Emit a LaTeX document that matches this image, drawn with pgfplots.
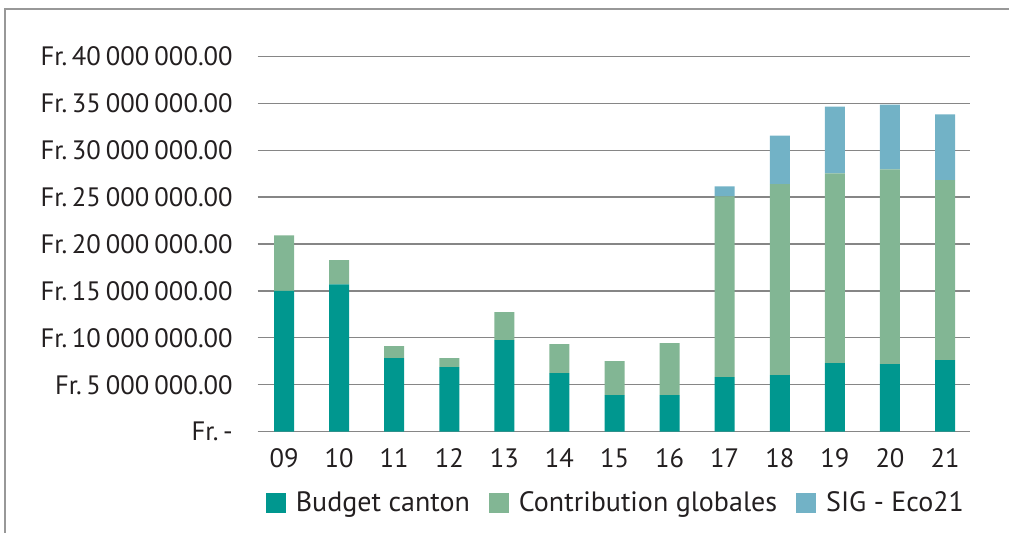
\documentclass[border=0pt]{standalone}
\usepackage{pgfplots}
\pgfplotsset{compat=1.18}
\usepackage{fontspec}
\setmainfont{PT Sans}
\definecolor{cBud}{RGB}{0,151,143}
\definecolor{cCon}{RGB}{130,182,148}
\definecolor{cSig}{RGB}{114,178,198}
\definecolor{cTxt}{RGB}{35,31,32}
\definecolor{cGrid}{RGB}{134,134,134}
\newcommand{\gs}{\hspace{0.19em}}
\newcommand{\fs}{\hspace{0.17em}}
\begin{document}
\begin{tikzpicture}
\useasboundingbox (0,0) rectangle (504.5pt,-266.5pt);
\draw[cGrid!85!white, line width=0.85pt] (2.5pt,-266.5pt) -- (2.5pt,-4.5pt) -- (504.5pt,-4.5pt);
\begin{axis}[
  at={(128.85pt,-215.85pt)}, anchor=south west,
  scale only axis, width=356.2pt, height=187.7pt,
  ybar stacked, bar width=10pt,
  xmin=-0.478, xmax=12.454, ymin=0, ymax=40,
  xtick={0,...,12},
  xticklabels={09,10,11,12,13,14,15,16,17,18,19,20,21},
  ytick={0,5,...,40},
  yticklabels={Fr.\fs-,Fr.\fs5\gs000\gs000.00,Fr.\fs10\gs000\gs000.00,Fr.\fs15\gs000\gs000.00,Fr.\fs20\gs000\gs000.00,Fr.\fs25\gs000\gs000.00,Fr.\fs30\gs000\gs000.00,Fr.\fs35\gs000\gs000.00,Fr.\fs40\gs000\gs000.00},
  axis line style={draw=none},
  major tick length=0pt,
  ymajorgrids, grid style={cGrid, line width=0.65pt},
  tick label style={font=\fontsize{13.3}{16}\selectfont, text=cTxt, inner sep=0pt},
  yticklabel style={anchor=east, xshift=-12.3pt},
  xticklabel style={anchor=north, yshift=-8.2pt},
  legend columns=3,
  legend style={at={(0.5,0)}, anchor=center, yshift=-35.7pt, xshift=1.5pt, draw=none, fill=none,
    font=\fontsize{14}{16}\selectfont, text=cTxt,
    /tikz/every even column/.append style={column sep=7.5pt}},
  legend image code/.code={\fill[#1,draw=none] (0pt,-5pt) rectangle (10pt,5pt); \path (13pt,0pt);},
]
\addplot[fill=cBud, draw=none] coordinates {(0,15.0) (1,15.7) (2,7.84) (3,6.88) (4,9.76) (5,6.24) (6,3.9) (7,3.9) (8,5.82) (9,6.03) (10,7.31) (11,7.2) (12,7.63)};
\addlegendentry{Budget canton}
\addplot[fill=cCon, draw=none] coordinates {(0,5.93) (1,2.57) (2,1.28) (3,0.96) (4,2.97) (5,3.09) (6,3.62) (7,5.53) (8,19.25) (9,20.35) (10,20.21) (11,20.75) (12,19.17)};
\addlegendentry{Contribution globales}
\addplot[fill=cSig, draw=none] coordinates {(0,0) (1,0) (2,0) (3,0) (4,0) (5,0) (6,0) (7,0) (8,1.07) (9,5.18) (10,7.13) (11,6.91) (12,7.0)};
\addlegendentry{SIG - Eco21}
\end{axis}
\end{tikzpicture}
\end{document}
